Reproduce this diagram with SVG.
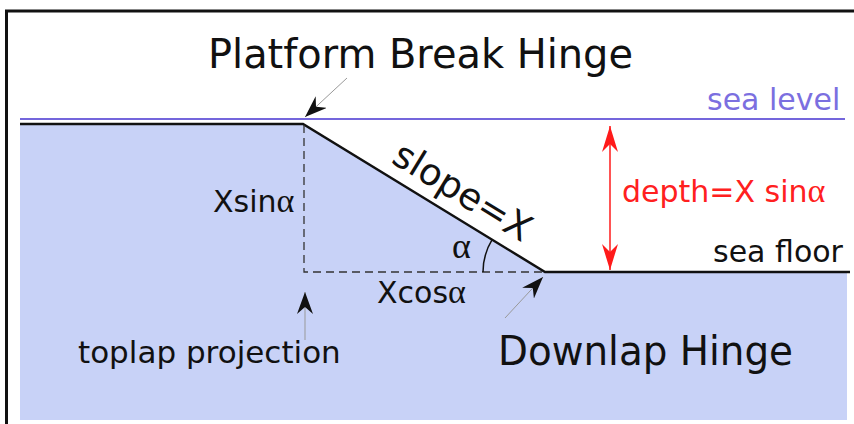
<svg xmlns="http://www.w3.org/2000/svg" width="854" height="424" viewBox="0 0 854 424">
<style>
.t{font-family:"DejaVu Sans","Liberation Sans",sans-serif;fill:#111}
.g{font-family:"Liberation Serif","DejaVu Serif",serif}
.dash{stroke:#333;stroke-width:1.3;stroke-dasharray:8 5;fill:none}
.lead{stroke:#999;stroke-width:1;fill:none}
</style>
<defs>
<marker id="ah" markerUnits="userSpaceOnUse" markerWidth="24" markerHeight="16" refX="22" refY="8" orient="auto">
<path d="M22,8 L0,0 L7,8 L0,16 z" fill="#111"/>
</marker>
<marker id="rh" markerUnits="userSpaceOnUse" markerWidth="28" markerHeight="18" refX="26" refY="9" orient="auto-start-reverse">
<path d="M26,9 L0,1 L8,9 L0,17 z" fill="#ff1a1a"/>
</marker>
</defs>
<rect x="0" y="0" width="854" height="424" fill="#fff"/>
<g id="frame">
<path d="M5,11 H854 M6.5,11 V424" stroke="#111" stroke-width="3" fill="none"/>
</g>
<g id="basin">
<path d="M20,124 L303,124 L545,272 L847,272 L847,420 L20,420 z" fill="#c8d2f7"/>
<line x1="20" y1="119" x2="845" y2="119" stroke="#7466dc" stroke-width="2"/>
<path d="M20,124 L303,124 L545,272 L850,272" stroke="#111" stroke-width="2.5" fill="none"/>
<path d="M304,125 V272 H545" class="dash"/>
<path d="M483,272 A62,62 0 0 1 492.1,239.7" stroke="#111" stroke-width="1.5" fill="none"/>
</g>
<g id="connectors">
<line x1="347" y1="78" x2="305" y2="117" class="lead" marker-end="url(#ah)"/>
<line x1="305" y1="340" x2="305" y2="292" class="lead" marker-end="url(#ah)"/>
<line x1="505" y1="318" x2="543" y2="277" class="lead" marker-end="url(#ah)"/>
<line x1="610" y1="126" x2="610" y2="270" stroke="#ff1a1a" stroke-width="1.5" marker-start="url(#rh)" marker-end="url(#rh)"/>
</g>
<g id="platform-break-hinge"><text class="t" x="208" y="68" font-size="40" textLength="425" lengthAdjust="spacingAndGlyphs">Platform Break Hinge</text></g>
<g id="sea-level"><text class="t" x="707" y="110" font-size="30" style="fill:#7b6fe0">sea level</text></g>
<g id="slope"><text class="t" font-size="37" transform="translate(390,162) rotate(31.4)">slope=X</text></g>
<g id="xsin"><text class="t" x="213" y="212" font-size="30">Xsin<tspan class="g" font-size="34">α</tspan></text></g>
<g id="alpha"><text class="t g" x="452" y="258" font-size="36">α</text></g>
<g id="depth"><text class="t" x="622" y="202" font-size="30" style="fill:#ff2020">depth=X sin<tspan class="g" font-size="34">α</tspan></text></g>
<g id="sea-floor"><text class="t" x="713" y="262" font-size="30">sea floor</text></g>
<g id="xcos"><text class="t" x="377" y="303" font-size="30">Xcos<tspan class="g" font-size="34">α</tspan></text></g>
<g id="toplap-projection"><text class="t" x="78" y="363" font-size="31">toplap projection</text></g>
<g id="downlap-hinge"><text class="t" x="498" y="365" font-size="40" textLength="295" lengthAdjust="spacingAndGlyphs">Downlap Hinge</text></g>
</svg>
